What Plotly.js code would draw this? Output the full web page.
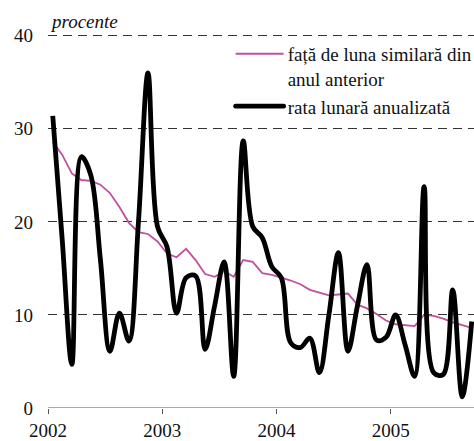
<!DOCTYPE html>
<html>
<head>
<meta charset="utf-8">
<script src="https://cdn.plot.ly/plotly-3.0.1.min.js"></script>
<style>html,body{margin:0;padding:0;background:#fff;overflow:hidden;}#chart{width:474px;height:441px;}</style>
</head>
<body>
<div id="chart"></div>
<script>
// Monthly observations Jan 2002 .. Sep 2005
var startYear = 2002;
var monthCount = 45;
var yearTicks = [2002, 2003, 2004, 2005];
var yTicks = [0, 10, 20, 30, 40];

// față de luna similară din anul anterior (%)
var yoy = [28.6, 27.2, 25.2, 24.5, 24.4, 24.0, 23.1, 21.6, 19.9, 18.9, 18.7, 17.9,
           16.6, 16.2, 17.1, 15.9, 14.4, 14.1, 14.7, 14.1, 15.9, 15.7, 14.5, 14.3,
           14.0, 13.7, 13.3, 12.7, 12.4, 12.1, 12.2, 12.3, 11.1, 10.7, 10.1, 9.4,
           9.0, 8.9, 8.8, 10.0, 9.9, 9.6, 9.2, 8.9, 8.6];

// rata lunară anualizată (%)
var mom = [31.4, 18.0, 4.7, 27.0, 25.0, 16.0, 6.1, 10.2, 7.2, 20.0, 36.0, 19.5,
           17.3, 10.2, 14.0, 14.2, 6.3, 11.0, 15.7, 3.4, 28.7, 19.5, 18.3, 15.2,
           14.0, 7.0, 6.5, 7.5, 3.8, 10.0, 16.7, 6.1, 11.0, 15.4, 7.3, 7.6,
           10.0, 6.8, 3.4, 23.8, 3.8, 3.6, 12.7, 1.2, 9.3];

// x position: middle of each month
var xs = [];
for (var i = 0; i < monthCount; i++) { xs.push(startYear + (i + 0.5) / 12); }

var font = 'Liberation Serif, Times New Roman, serif';

var traces = [
  {x: xs, y: yoy, type: 'scatter', mode: 'lines',
   name: 'față de luna similară din<br>anul anterior',
   line: {color: '#c050a0', width: 1.8}},
  {x: xs, y: mom, type: 'scatter', mode: 'lines',
   name: 'rata lunară anualizată',
   line: {color: '#000000', width: 4.8, shape: 'spline', smoothing: 1}}
];

var layout = {
  width: 474, height: 441,
  margin: {l: 47.5, r: 0, t: 33.2, b: 32.7, autoexpand: false},
  paper_bgcolor: '#fff', plot_bgcolor: '#fff',
  font: {family: font, size: 19, color: '#111'},
  showlegend: true,
  legend: {x: 0.417, y: 0.995, xanchor: 'left', yanchor: 'top',
           bgcolor: 'rgba(0,0,0,0)', borderwidth: 0, valign: 'top',
           font: {family: font, size: 19, color: '#111'},
           tracegroupgap: 0, itemwidth: 52},
  xaxis: {range: [2002, 2005.728], tickmode: 'array', tickvals: yearTicks,
          ticktext: yearTicks.map(String), ticks: 'outside', ticklen: 5,
          tickcolor: '#555', showgrid: false, zeroline: false,
          showline: false, tickfont: {family: font, size: 19, color: '#111'}},
  yaxis: {range: [0, 40.3], tickmode: 'array', tickvals: yTicks,
          showgrid: true, gridcolor: '#333', gridwidth: 1, griddash: '9px,6px',
          zeroline: false, showline: false, ticks: '', ticklabelstandoff: 14,
          tickfont: {family: font, size: 19, color: '#111'}},
  shapes: [
    {type: 'rect', xref: 'paper', yref: 'y', x0: 0.409, x1: 1, y0: 28.8, y1: 31,
     fillcolor: '#ffffff', line: {width: 0}, layer: 'between'},
    {type: 'line', xref: 'paper', yref: 'y', x0: 0, x1: 1, y0: 0, y1: 0,
     line: {color: '#555', width: 1}, layer: 'above'}
  ],
  annotations: [{text: '<i>procente</i>', xref: 'paper', yref: 'paper',
                 x: 0, y: 1.031, xanchor: 'left', yanchor: 'middle',
                 showarrow: false, font: {family: font, size: 19, color: '#111'}}]
};

Plotly.newPlot('chart', traces, layout, {displayModeBar: false, staticPlot: true}).then(function (gd) {
  // longer legend sample lines, as in the original
  var paths = gd.querySelectorAll('.legend .legendlines path');
  for (var k = 0; k < paths.length; k++) { paths[k].setAttribute('d', 'M10,0h48'); }
  var bl = paths[paths.length - 1];
  if (bl) { bl.style.strokeLinecap = 'round'; }
});
</script>
</body>
</html>
